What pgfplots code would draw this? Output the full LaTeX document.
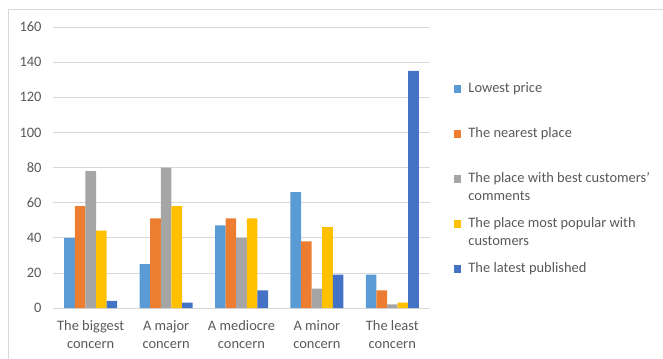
\documentclass[border=0pt]{standalone}
\usepackage{pgfplots}
\pgfplotsset{compat=1.18}
\usepackage{fontspec}
\setmainfont{Carlito}

\definecolor{sLow}{HTML}{5B9BD5}
\definecolor{sNear}{HTML}{ED7D31}
\definecolor{sBest}{HTML}{A5A5A5}
\definecolor{sPop}{HTML}{FFC000}
\definecolor{sLate}{HTML}{4472C4}
\definecolor{txt}{HTML}{595959}
\definecolor{gridc}{HTML}{D9D9D9}

\newcommand\chartfont{\fontsize{14.5}{18}\selectfont}
% one legend entry, top-aligned so the marker sits on its first line
\newcommand\legtext[1]{\hspace*{5bp}\parbox[t]{188bp}{\raggedright\chartfont\strut #1}}

\begin{document}
\begin{tikzpicture}[x=1bp,y=1bp]
\useasboundingbox (-53,-50) rectangle (610,308);
\draw[gridc, line width=0.75bp] (-45,-51) -- (-45,299) -- (611,299);
\begin{axis}[
  at={(0,0)}, anchor=south west,
  scale only axis, width=377bp, height=281bp,
  xmin=-0.5, xmax=4.5, ymin=0, ymax=160,
  ytick={0,20,...,160},
  xtick={0,1,2,3,4},
  xticklabels={{The biggest\\concern},{A major\\concern},{A mediocre\\concern},{A minor\\concern},{The least\\concern}},
  ybar=0pt, bar width=10.6bp,
  axis line style={draw=none},
  major tick length=0pt,
  ymajorgrids, grid style={gridc, line width=0.75bp},
  /pgf/number format/assume math mode=true,
  tick label style={font=\chartfont, text=txt},
  yticklabel style={xshift=-8bp},
  xticklabel style={align=center, yshift=-9bp},
  legend style={draw=none, at={(1.063,0.819)}, anchor=north west,
    font=\chartfont, text=txt,
    row sep=27bp, inner sep=0pt,
    cells={anchor=base west}},
  legend image code/.code={\fill[#1,draw=none] (0bp,0bp) rectangle (7.5bp,7.5bp);},
]
\addplot[fill=sLow, draw=none] coordinates {(0,40) (1,25) (2,47) (3,66) (4,19)};
\addplot[fill=sNear, draw=none] coordinates {(0,58) (1,51) (2,51) (3,38) (4,10)};
\addplot[fill=sBest, draw=none] coordinates {(0,78) (1,80) (2,40) (3,11) (4,2)};
\addplot[fill=sPop, draw=none] coordinates {(0,44) (1,58) (2,51) (3,46) (4,3)};
\addplot[fill=sLate, draw=none] coordinates {(0,4) (1,3) (2,10) (3,19) (4,135)};
\addlegendentry{\legtext{Lowest price}}
\addlegendentry{\legtext{The nearest place}}
\addlegendentry{\legtext{The place with best customers'\\comments}}
\addlegendentry{\legtext{The place most popular with\\customers}}
\addlegendentry{\legtext{The latest published}}
\end{axis}
\end{tikzpicture}
\end{document}
